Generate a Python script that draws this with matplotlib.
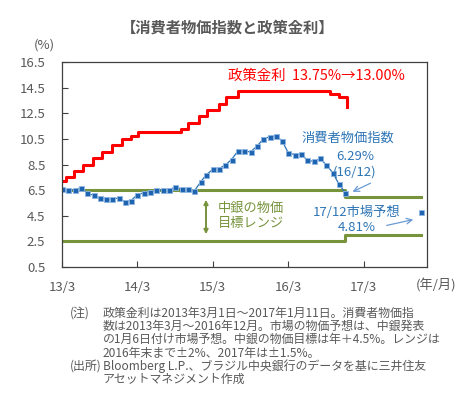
import numpy as np
import pandas as pd
from matplotlib import pyplot as plt

plt.rcParams['font.family'] = ['Noto Sans CJK JP', 'DejaVu Sans']

# consumer price index (y/y %), Mar 2013 - Dec 2016, plotted at month end
cpi_dates = pd.date_range('2013-03-31', periods=46, freq='ME')
cpi = [6.59, 6.49, 6.50, 6.70, 6.27, 6.09, 5.86, 5.84, 5.77, 5.91,
       5.59, 5.68, 6.15, 6.28, 6.37, 6.52, 6.50, 6.51, 6.75, 6.59, 6.56, 6.41,
       7.14, 7.70, 8.13, 8.17, 8.47, 8.89, 9.56, 9.53, 9.49, 9.93, 10.48, 10.67,
       10.71, 10.36, 9.39, 9.28, 9.32, 8.84, 8.74, 8.97, 8.48, 7.87, 6.99, 6.29]

# policy rate (Selic) change dates and levels
selic_dates = pd.to_datetime([
    '2013-03-31', '2013-04-17', '2013-05-29', '2013-07-10', '2013-08-28',
    '2013-10-09', '2013-11-27', '2014-01-15', '2014-02-26', '2014-04-02',
    '2014-10-29', '2014-12-03', '2015-01-21', '2015-03-04', '2015-04-29',
    '2015-06-03', '2015-07-29', '2016-10-19', '2016-11-30', '2017-01-11'])
selic = [7.25, 7.50, 8.00, 8.50, 9.00, 9.50, 10.00, 10.50, 10.75, 11.00,
         11.25, 11.75, 12.25, 12.75, 13.25, 13.75, 14.25, 14.00, 13.75, 13.00]

# central bank inflation target range
band_dates = pd.to_datetime(['2013-03-31', '2016-12-31', '2017-12-31'])
band_upper = [6.5, 6.0, 6.0]
band_lower = [2.5, 3.0, 3.0]

# market forecast for Dec 2017
fc_date = pd.Timestamp('2017-12-31')
fc_value = 4.81

yticks = [0.5, 2.5, 4.5, 6.5, 8.5, 10.5, 12.5, 14.5, 16.5]
xtick_dates = pd.to_datetime(['2013-03-31', '2014-03-31', '2015-03-31',
                              '2016-03-31', '2017-03-31'])
xtick_labels = ['13/3', '14/3', '15/3', '16/3', '17/3']

gray = '#595959'
green = '#77933C'
blue = '#2E75B6'

fig = plt.figure(figsize=(4.7, 3.94), dpi=100)
ax = fig.add_axes([62/470, 127/394, 365/470, 205/394])

ax.step(band_dates, band_upper, where='post', color=green, lw=2.2)
ax.step(band_dates, band_lower, where='post', color=green, lw=2.2)
ax.step(selic_dates, selic, where='post', color='#FF0000', lw=2.2)
ax.plot(cpi_dates, cpi, color=blue, lw=0.9, marker='s', ms=3.6,
        mfc='#1F64B0', mec='#8DB6E2', mew=0.6)
ax.plot([fc_date], [fc_value], ls='none', marker='s', ms=3.6,
        mfc='#1F64B0', mec='#8DB6E2', mew=0.6)

ax.set_xlim(pd.Timestamp('2013-03-31'), pd.Timestamp('2018-01-31'))
ax.set_ylim(0.5, 16.5)
ax.set_yticks(yticks)
ax.set_yticklabels([f'{v:.1f}' for v in yticks])
ax.set_xticks(xtick_dates)
ax.set_xticklabels(xtick_labels)
ax.tick_params(direction='in', length=4, color='#404040', labelcolor=gray,
               labelsize=9.5)
ax.tick_params(axis='y', pad=12)
ax.tick_params(axis='x', pad=10)
for s in ax.spines.values():
    s.set_color('#404040')
    s.set_linewidth(0.9)

def fx(px):
    return px / 470

def fy(py):
    return 1 - py / 394

fig.text(fx(228), fy(28), '【消費者物価指数と政策金利】', ha='center', va='center',
         fontsize=11, fontweight='bold', color=gray)
fig.text(fx(44), fy(45), '(%)', ha='center', va='center', fontsize=9.5, color=gray)
fig.text(fx(436), fy(285), '(年/月)', ha='center', va='center', fontsize=9.5, color=gray)

fig.text(fx(228), fy(76), '政策金利  13.75%→13.00%', ha='left', va='center',
         fontsize=10.4, color='#FF0000')
fig.text(fx(348), fy(138), '消費者物価指数', ha='center', va='center',
         fontsize=9.5, color=blue)
fig.text(fx(355), fy(156), '6.29%', ha='center', va='center', fontsize=9.5, color=blue)
fig.text(fx(355), fy(172), '(16/12)', ha='center', va='center', fontsize=9.5, color=blue)
fig.text(fx(357), fy(212), '17/12市場予想', ha='center', va='center',
         fontsize=9.5, color=blue)
fig.text(fx(357), fy(228), '4.81%', ha='center', va='center', fontsize=9.5, color=blue)
fig.text(fx(218), fy(216), '中銀の物価\n目標レンジ', ha='left', va='center',
         fontsize=9.5, color=green, linespacing=1.25)

ax.annotate('', xy=(350, 394-193), xycoords='figure pixels',
            xytext=(373, 394-182), textcoords='figure pixels',
            arrowprops=dict(arrowstyle='->', color='#6A9AD4', lw=0.9))
ax.annotate('', xy=(416, 394-219), xycoords='figure pixels',
            xytext=(384, 394-226), textcoords='figure pixels',
            arrowprops=dict(arrowstyle='->', color='#6A9AD4', lw=0.9))
ax.annotate('', xy=(206, 394-197), xycoords='figure pixels',
            xytext=(206, 394-237), textcoords='figure pixels',
            arrowprops=dict(arrowstyle='<|-|>', color=green, lw=1.4,
                            mutation_scale=6))

notes = ['政策金利は2013年3月1日～2017年1月11日。消費者物価指',
         '数は2013年3月～2016年12月。市場の物価予想は、中銀発表',
         'の1月6日付け市場予想。中銀の物価目標は年＋4.5%。レンジは',
         '2016年末まで±2%、2017年は±1.5%。']
source = ['Bloomberg L.P.、ブラジル中央銀行のデータを基に三井住友',
          'アセットマネジメント作成']
fig.text(fx(70), fy(313), '(注)', ha='left', va='center', fontsize=8.6, color=gray)
for i, line in enumerate(notes):
    fig.text(fx(103), fy(313 + 13.4 * i), line, ha='left', va='center',
             fontsize=8.6, color=gray)
fig.text(fx(70), fy(366), '(出所)', ha='left', va='center', fontsize=8.6, color=gray)
for i, line in enumerate(source):
    fig.text(fx(103), fy(366 + 13.4 * i), line, ha='left', va='center',
             fontsize=8.6, color=gray)

fig.savefig('out.png', dpi=100)
